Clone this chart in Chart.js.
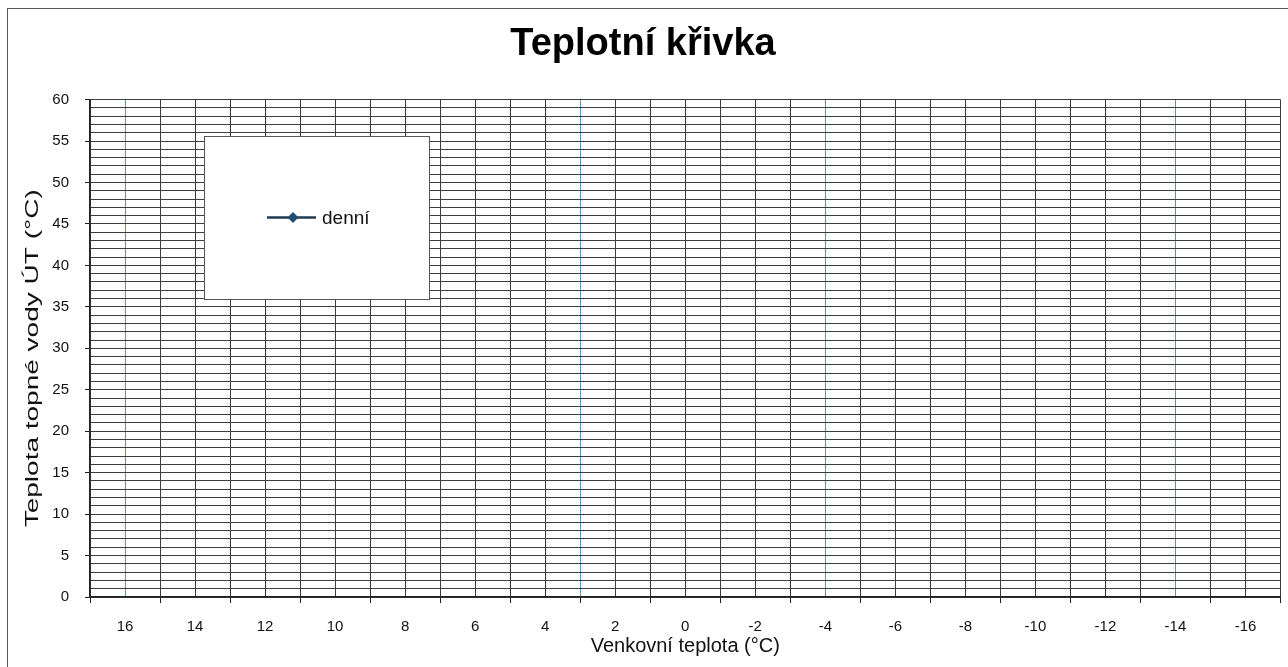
<!DOCTYPE html>
<html>
<head>
<meta charset="utf-8">
<script src="https://cdn.jsdelivr.net/npm/chart.js@4/dist/chart.umd.min.js"></script>
<style>
  html, body { margin: 0; padding: 0; background: #fff; overflow: hidden; }
  #wrap { width: 1288px; height: 667px; position: relative; }
</style>
</head>
<body>
<div id="wrap"><canvas id="c"></canvas></div>
<script>
// Outdoor temperature categories (x axis labels), °C
const categories = [16, 14, 12, 10, 8, 6, 4, 2, 0, -2, -4, -6, -8, -10, -12, -14, -16];
// Series "denní" – the reference chart contains no plotted values
const denni = [null, null, null, null, null, null, null, null, null, null, null, null, null, null, null, null, null];
// Y axis tick labels, °C
const yTickLabels = [0, 5, 10, 15, 20, 25, 30, 35, 40, 45, 50, 55, 60];

const FONT = "'Liberation Sans', Arial, Helvetica, sans-serif";
const GRID = '#3c3c3c';
const tinted = [16, 3, -4, -14];

const points = categories.map((c, i) => ({ x: c, y: denni[i] }));

const frame = {
  id: 'frame',
  beforeDraw(chart) {
    const ctx = chart.ctx;
    ctx.save();
    ctx.fillStyle = '#fff';
    ctx.fillRect(0, 0, chart.width, chart.height);
    ctx.strokeStyle = '#555';
    ctx.lineWidth = 1;
    ctx.strokeRect(7.5, 8.5, chart.width + 10, chart.height + 10);
    ctx.restore();
  }
};

// Y axis title, drawn stretched along its length like the scanned original
const yTitle = {
  id: 'yTitle',
  afterDraw(chart, args, o) {
    const ctx = chart.ctx;
    const area = chart.chartArea;
    ctx.save();
    ctx.font = o.size + 'px ' + FONT;
    ctx.fillStyle = '#111';
    ctx.textAlign = 'center';
    ctx.textBaseline = 'middle';
    const w = ctx.measureText(o.text).width;
    ctx.translate(o.x, (area.top + area.bottom) / 2 + o.dy);
    ctx.rotate(-Math.PI / 2);
    ctx.scale(o.length / w, 1);
    ctx.fillText(o.text, 0, 0);
    ctx.restore();
  }
};

const legendBox = {
  id: 'legendBox',
  afterDraw(chart, args, o) {
    const ctx = chart.ctx;
    const ds = chart.data.datasets[0];
    ctx.save();
    ctx.fillStyle = '#fff';
    ctx.fillRect(o.x, o.y, o.w, o.h);
    ctx.strokeStyle = '#555';
    ctx.lineWidth = 1;
    ctx.strokeRect(o.x + 0.5, o.y + 0.5, o.w, o.h);
    const cy = o.y + o.h / 2;
    const lx = o.x + 63;
    ctx.strokeStyle = ds.borderColor;
    ctx.lineWidth = 2.5;
    ctx.beginPath();
    ctx.moveTo(lx, cy);
    ctx.lineTo(lx + 49, cy);
    ctx.stroke();
    const mx = lx + 26;
    ctx.fillStyle = ds.pointBackgroundColor;
    ctx.beginPath();
    ctx.moveTo(mx, cy - 5.5);
    ctx.lineTo(mx + 5.5, cy);
    ctx.lineTo(mx, cy + 5.5);
    ctx.lineTo(mx - 5.5, cy);
    ctx.closePath();
    ctx.fill();
    ctx.fillStyle = '#111';
    ctx.font = '19px ' + FONT;
    ctx.textBaseline = 'middle';
    ctx.textAlign = 'left';
    ctx.fillText(ds.label, lx + 55, cy + 1);
    ctx.restore();
  }
};

new Chart(document.getElementById('c'), {
  type: 'line',
  data: {
    datasets: [{
      label: 'denní',
      data: points,
      borderColor: '#1f3a55',
      pointBackgroundColor: '#1f4e6e',
      pointBorderColor: '#1f4e6e',
      pointStyle: 'rectRot',
      pointRadius: 5,
      borderWidth: 2.5,
      spanGaps: false
    }]
  },
  options: {
    responsive: true,
    maintainAspectRatio: false,
    animation: false,
    layout: { padding: { left: 0, right: 2, top: 0, bottom: 0 } },
    plugins: {
      legend: { display: false },
      tooltip: { enabled: false },
      title: {
        display: true,
        text: 'Teplotní křivka',
        color: '#000',
        font: { family: FONT, size: 38, weight: 'bold', lineHeight: 1.2 },
        padding: { top: 22, bottom: 32 }
      },
      legendBox: { x: 204, y: 136, w: 225, h: 163 },
      yTitle: { text: 'Teplota topné vody ÚT (°C)', size: 18, x: 33, dy: 10, length: 338 }
    },
    scales: {
      x: {
        type: 'linear',
        reverse: true,
        min: -17,
        max: 17,
        afterFit(s) { s.height = 70; s.paddingLeft = 0; s.paddingRight = 0; },
        afterBuildTicks(s) {
          const t = [];
          for (let v = 17; v >= -17; v--) t.push({ value: v });
          s.ticks = t;
        },
        ticks: {
          autoSkip: false,
          maxRotation: 0,
          minRotation: 0,
          padding: 15,
          color: '#111',
          font: { family: FONT, size: 15 },
          callback: (v) => categories.includes(v) ? String(v) : ''
        },
        grid: {
          color: (c) => tinted.includes(c.tick && c.tick.value) ? '#5f95ad' : GRID,
          lineWidth: 1,
          drawTicks: true,
          tickLength: 6,
          tickColor: (c) => (c.tick && Math.abs(c.tick.value) % 2 === 1) ? '#222' : 'rgba(0,0,0,0)'
        },
        border: { display: true, color: '#222', width: 1.5 },
        title: {
          display: true,
          text: 'Venkovní teplota (°C)',
          color: '#111',
          font: { family: FONT, size: 20 },
          padding: { top: 0, bottom: 9 }
        }
      },
      y: {
        type: 'linear',
        min: 0,
        max: 60,
        afterFit(s) { s.width = 90; },
        afterBuildTicks(s) {
          const t = [];
          for (let v = 0; v <= 60; v++) t.push({ value: v });
          s.ticks = t;
        },
        ticks: {
          autoSkip: false,
          padding: 16,
          color: '#111',
          font: { family: FONT, size: 15 },
          callback: (v) => yTickLabels.includes(v) ? String(v) : ''
        },
        grid: {
          color: GRID,
          lineWidth: 1,
          drawTicks: true,
          tickLength: 5,
          tickColor: (c) => (c.tick && c.tick.value % 5 === 0) ? '#222' : 'rgba(0,0,0,0)'
        },
        border: { display: true, color: '#222', width: 1.5 },
        title: { display: false }
      }
    }
  },
  plugins: [frame, yTitle, legendBox]
});
</script>
</body>
</html>
